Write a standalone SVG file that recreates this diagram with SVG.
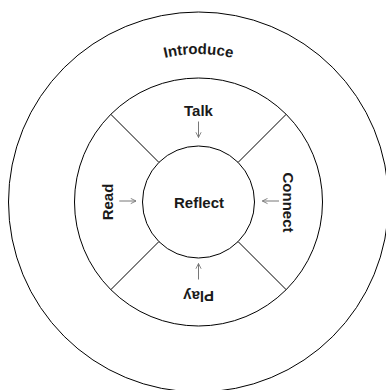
<svg xmlns="http://www.w3.org/2000/svg" width="386" height="390" viewBox="0 0 386 390">
  <style>
    .ring { fill: none; stroke: #000; stroke-width: 1; }
    .div { stroke: #000; stroke-width: 1; }
    .lbl { font-family: "Liberation Sans", Arial, sans-serif; font-weight: bold; font-size: 15px; fill: #1a1a1a; text-anchor: middle; }
    .arr { fill: none; stroke: #777; stroke-width: 1; }
  </style>
  <defs>
    <path id="introArc" d="M 50.5 202 A 148 148 0 0 1 346.5 202"/>
    <marker id="head" viewBox="0 0 8 8" refX="7" refY="4" markerWidth="7" markerHeight="7" markerUnits="userSpaceOnUse" orient="auto">
      <path d="M 1 1 L 7 4 L 1 7" fill="none" stroke="#777" stroke-width="1"/>
    </marker>
  </defs>
  <rect width="386" height="390" fill="#fff"/>

  <g id="introduce">
    <circle class="ring" cx="198.5" cy="202" r="190"/>
    <text class="lbl" font-size="14.2"><textPath href="#introArc" startOffset="50%">Introduce</textPath></text>
  </g>

  <g id="middle-ring">
    <circle class="ring" cx="198.5" cy="202" r="124"/>
    <line class="div" x1="110.8" y1="114.3" x2="158.9" y2="162.4"/>
    <line class="div" x1="286.2" y1="114.3" x2="238.1" y2="162.4"/>
    <line class="div" x1="110.8" y1="289.7" x2="158.9" y2="241.6"/>
    <line class="div" x1="286.2" y1="289.7" x2="238.1" y2="241.6"/>
  </g>

  <g id="talk">
    <text class="lbl" x="198.5" y="115.5" font-size="14">Talk</text>
  </g>
  <g id="read">
    <text class="lbl" transform="translate(113.3 202) rotate(-90)">Read</text>
  </g>
  <g id="connect">
    <text class="lbl" transform="translate(283 202.5) rotate(90)">Connect</text>
  </g>
  <g id="play">
    <text class="lbl" transform="translate(198.7 291) rotate(180)">Play</text>
  </g>

  <g id="reflect">
    <circle class="ring" cx="198.5" cy="202" r="56"/>
    <text class="lbl" x="199" y="208">Reflect</text>
  </g>

  <g id="connectors">
    <line class="arr" x1="198.5" y1="121.5" x2="198.5" y2="137.5" marker-end="url(#head)"/>
    <line class="arr" x1="119.3" y1="201" x2="136" y2="201" marker-end="url(#head)"/>
    <line class="arr" x1="279" y1="201" x2="262.3" y2="201" marker-end="url(#head)"/>
    <line class="arr" x1="198.5" y1="279.5" x2="198.5" y2="263.5" marker-end="url(#head)"/>
  </g>
</svg>
